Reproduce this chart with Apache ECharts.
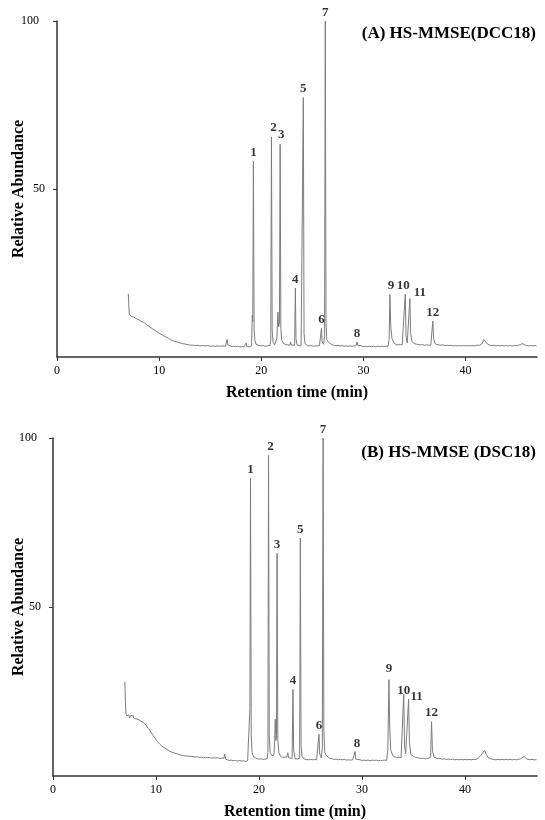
<!DOCTYPE html>
<html>
<head>
<meta charset="utf-8">
<script src="https://cdn.jsdelivr.net/npm/echarts@6/dist/echarts.min.js"></script>
<style>
html,body{margin:0;padding:0;background:#fff;}
#chart{width:545px;height:820px;}
</style>
</head>
<body>
<div id="chart"></div>
<script>
// ---------- DATA ----------
const titleA = '(A) HS-MMSE(DCC18)';
const titleB = '(B) HS-MMSE (DSC18)';
const xAxisTitle = 'Retention time (min)';
const yAxisTitle = 'Relative Abundance';
const xTickValues = [0, 10, 20, 30, 40];
const yTickValues = [50, 100];

// chromatogram A : [retention time (min), relative abundance]
const traceA = [
  [6.98,18.8],[7.03,15.5],[7.08,12.8],[7.2,12.4],[7.3,12.0],[7.4,11.8],[7.5,11.9],[7.6,11.4],[7.7,11.5],[7.8,11.1],
  [7.9,11.2],[8.0,10.8],[8.1,10.9],[8.2,10.6],[8.3,10.5],[8.4,10.2],[8.5,10.3],[8.6,9.9],[8.7,9.8],[8.8,9.5],
  [8.9,9.4],[9.0,9.0],[9.1,8.9],[9.2,8.6],[9.3,8.5],[9.4,8.2],[9.5,8.1],[9.6,7.8],[9.7,7.7],[9.8,7.4],
  [9.9,7.3],[10.0,7.0],[10.1,6.9],[10.2,6.7],[10.3,6.6],[10.4,6.3],[10.5,6.2],[10.6,6.0],[10.7,5.9],[10.8,5.7],
  [10.9,5.6],[11.0,5.3],[11.1,5.2],[11.2,5.0],[11.3,4.9],[11.4,4.7],[11.5,4.7],[11.6,4.5],[11.8,4.4],[12.0,4.2],
  [12.15,4.2],[12.3,4.0],[12.45,3.9],[12.6,3.8],[12.75,3.8],[12.9,3.6],[13.05,3.6],[13.2,3.5],[13.4,3.5],[13.6,3.4],
  [13.8,3.5],[14.0,3.3],[14.25,3.4],[14.5,3.3],[14.75,3.4],[15.0,3.2],[15.25,3.3],[15.5,3.2],[15.75,3.3],[16.0,3.2],
  [16.25,3.3],[16.5,3.2],[16.6,3.3],[16.66,5.2],[16.72,3.6],[16.9,3.2],[17.1,3.1],[17.3,3.2],[17.5,3.1],[17.7,3.2],
  [17.9,3.0],[18.1,3.1],[18.3,3.0],[18.45,3.0],[18.53,4.2],[18.6,3.1],[18.8,3.0],[18.95,3.1],[19.05,3.3],[19.12,12.4],
  [19.17,10.5],[19.23,58.2],[19.3,8.0],[19.38,4.8],[19.5,3.8],[19.65,3.5],[19.8,3.4],[20.0,3.3],[20.2,3.4],[20.4,3.2],
  [20.6,3.3],[20.85,3.4],[20.93,5.0],[21.0,65.5],[21.07,8.0],[21.15,4.5],[21.3,3.6],[21.45,3.7],[21.53,5.5],[21.63,13.4],
  [21.7,9.0],[21.78,10.0],[21.85,63.3],[21.92,8.5],[22.0,5.0],[22.2,4.0],[22.4,3.7],[22.6,3.6],[22.8,3.5],[22.87,4.5],
  [22.95,3.5],[23.1,3.3],[23.27,3.6],[23.34,20.5],[23.4,5.5],[23.5,3.6],[23.7,3.4],[23.9,3.3],[24.05,3.5],[24.12,77.2],
  [24.19,7.0],[24.28,4.0],[24.5,3.4],[24.7,3.3],[24.9,3.4],[25.1,3.2],[25.3,3.3],[25.5,3.3],[25.7,3.4],[25.84,3.6],
  [25.9,8.6],[25.96,4.5],[26.1,3.8],[26.2,6.0],[26.27,100],[26.34,10.0],[26.42,5.0],[26.55,4.5],[26.7,4.2],[26.9,3.7],
  [27.1,3.5],[27.3,3.4],[27.5,3.5],[27.7,3.3],[27.9,3.4],[28.1,3.2],[28.3,3.3],[28.5,3.2],[28.7,3.3],[28.9,3.2],
  [29.1,3.3],[29.3,3.4],[29.38,4.5],[29.45,3.5],[29.6,3.2],[29.8,3.3],[30.0,3.1],[30.2,3.2],[30.4,3.1],[30.6,3.2],
  [30.8,3.1],[31.0,3.2],[31.2,3.0],[31.4,3.2],[31.6,3.1],[31.8,3.2],[32.0,3.1],[32.2,3.2],[32.4,3.2],[32.52,5.0],
  [32.6,18.6],[32.68,9.0],[32.8,5.5],[33.0,4.2],[33.2,3.7],[33.4,3.6],[33.6,3.7],[33.7,4.0],[33.8,3.6],[33.98,3.8],
  [34.1,18.6],[34.18,6.0],[34.3,4.2],[34.45,4.2],[34.55,17.4],[34.63,7.0],[34.75,4.6],[35.0,4.0],[35.2,3.8],[35.4,3.7],
  [35.6,3.6],[35.8,3.7],[36.0,3.5],[36.2,3.6],[36.4,3.5],[36.6,3.5],[36.72,3.8],[36.8,10.7],[36.88,5.5],[37.0,4.0],
  [37.2,3.7],[37.4,3.6],[37.6,3.5],[37.8,3.6],[38.0,3.4],[38.2,3.5],[38.4,3.4],[38.6,3.5],[38.8,3.3],[39.0,3.4],
  [39.2,3.3],[39.4,3.4],[39.6,3.3],[39.8,3.4],[40.0,3.3],[40.2,3.4],[40.4,3.3],[40.6,3.4],[40.8,3.3],[41.0,3.4],
  [41.2,3.5],[41.4,3.5],[41.6,3.9],[41.8,5.2],[42.0,4.4],[42.2,3.7],[42.4,3.5],[42.6,3.4],[42.8,3.5],[43.0,3.3],
  [43.2,3.4],[43.4,3.3],[43.6,3.4],[43.8,3.3],[44.0,3.4],[44.2,3.3],[44.4,3.4],[44.6,3.3],[44.8,3.4],[45.0,3.4],
  [45.2,3.5],[45.4,3.7],[45.6,4.0],[45.8,3.6],[46.0,3.4],[46.2,3.3],[46.4,3.4],[46.6,3.3],[46.8,3.4],[46.95,3.3]
];

// chromatogram B : [retention time (min), relative abundance]
const traceB = [
  [6.98,27.9],[7.03,22.0],[7.08,18.5],[7.15,17.8],[7.25,17.5],[7.35,18.1],[7.45,17.2],[7.55,17.9],[7.65,17.4],[7.75,18.0],
  [7.85,17.1],[7.95,17.6],[8.05,16.9],[8.15,17.2],[8.25,16.8],[8.35,16.9],[8.45,16.4],[8.55,16.5],[8.65,16.0],[8.75,16.1],
  [8.85,15.6],[8.95,15.4],[9.05,15.0],[9.15,14.5],[9.25,14.1],[9.35,13.6],[9.45,13.3],[9.55,12.7],[9.65,12.4],[9.75,11.9],
  [9.85,11.6],[9.95,11.0],[10.05,10.7],[10.15,10.2],[10.25,10.0],[10.35,9.5],[10.45,9.3],[10.55,8.9],[10.65,8.8],[10.75,8.5],
  [10.85,8.3],[10.95,8.1],[11.05,7.9],[11.2,7.6],[11.35,7.5],[11.5,7.1],[11.65,7.0],[11.8,6.8],[11.95,6.8],[12.1,6.5],
  [12.25,6.5],[12.4,6.2],[12.55,6.3],[12.7,6.0],[12.85,6.1],[13.0,5.9],[13.2,5.9],[13.4,5.7],[13.6,5.8],[13.8,5.6],
  [14.0,5.7],[14.2,5.5],[14.4,5.6],[14.6,5.4],[14.8,5.5],[15.0,5.4],[15.2,5.5],[15.4,5.3],[15.6,5.4],[15.8,5.3],
  [16.0,5.4],[16.2,5.2],[16.4,5.3],[16.6,5.3],[16.68,6.5],[16.75,5.0],[16.9,4.8],[17.1,4.6],[17.3,4.7],[17.5,4.5],
  [17.7,4.6],[17.9,4.4],[18.1,4.6],[18.3,4.4],[18.5,4.5],[18.7,4.3],[18.9,4.5],[19.05,4.7],[19.12,20.0],[19.18,88.1],
  [19.25,12.0],[19.33,7.0],[19.45,5.8],[19.6,5.4],[19.8,5.1],[20.0,5.0],[20.2,5.1],[20.4,4.9],[20.6,5.0],[20.8,5.1],
  [20.87,7.0],[20.93,94.9],[21.0,12.0],[21.08,7.0],[21.25,6.0],[21.45,6.2],[21.52,10.0],[21.58,16.8],[21.65,10.5],[21.7,12.0],
  [21.76,65.9],[21.83,11.0],[21.92,7.0],[22.1,5.8],[22.3,5.5],[22.5,5.6],[22.7,5.6],[22.8,6.9],[22.88,5.4],[23.05,5.0],
  [23.22,5.2],[23.3,25.6],[23.37,7.5],[23.5,5.2],[23.7,5.0],[23.95,5.2],[24.02,70.4],[24.09,9.0],[24.18,5.8],[24.4,5.0],
  [24.6,4.9],[24.8,4.8],[25.0,4.9],[25.2,4.8],[25.4,4.9],[25.6,4.8],[25.75,5.0],[25.83,12.3],[25.9,6.5],[26.05,5.4],
  [26.15,8.0],[26.23,100],[26.3,14.0],[26.38,7.2],[26.5,6.2],[26.7,5.6],[26.9,5.2],[27.1,5.1],[27.3,4.9],[27.5,5.0],
  [27.7,4.8],[27.9,4.9],[28.1,4.8],[28.3,4.9],[28.5,4.7],[28.7,4.8],[28.9,4.7],[29.1,4.8],[29.25,4.9],[29.33,7.2],
  [29.41,5.0],[29.6,4.7],[29.8,4.8],[30.0,4.6],[30.2,4.7],[30.4,4.6],[30.6,4.7],[30.8,4.5],[31.0,4.7],[31.2,4.6],
  [31.4,4.7],[31.6,4.5],[31.8,4.6],[32.0,4.6],[32.2,4.7],[32.4,4.6],[32.52,8.0],[32.62,28.5],[32.7,14.0],[32.8,7.6],
  [33.0,6.0],[33.2,5.6],[33.4,5.5],[33.6,5.6],[33.7,5.9],[33.8,5.4],[33.98,5.8],[34.06,24.2],[34.14,9.0],[34.25,6.6],
  [34.42,6.8],[34.53,22.7],[34.61,10.0],[34.75,6.4],[35.0,5.8],[35.2,5.5],[35.4,5.4],[35.6,5.3],[35.8,5.2],[36.0,5.2],
  [36.2,5.1],[36.4,5.2],[36.55,5.1],[36.67,5.6],[36.76,16.1],[36.85,7.5],[37.0,5.6],[37.2,5.3],[37.4,5.1],[37.6,5.2],
  [37.8,5.0],[38.0,5.1],[38.2,4.9],[38.4,5.0],[38.6,4.9],[38.8,5.0],[39.0,4.8],[39.2,4.9],[39.4,4.8],[39.6,4.9],
  [39.8,4.8],[40.0,4.9],[40.2,4.8],[40.4,4.9],[40.6,4.8],[40.8,4.9],[41.0,4.9],[41.2,5.0],[41.35,5.0],[41.55,6.1],
  [41.7,5.6],[41.9,7.6],[42.1,6.3],[42.25,5.4],[42.4,5.1],[42.6,5.0],[42.8,4.9],[43.0,4.8],[43.2,4.9],[43.4,4.8],
  [43.6,4.9],[43.8,4.8],[44.0,4.9],[44.2,4.8],[44.4,4.9],[44.6,4.8],[44.8,4.9],[45.0,4.8],[45.2,4.9],[45.4,5.1],
  [45.55,5.3],[45.75,5.8],[45.95,5.1],[46.1,4.9],[46.3,4.8],[46.5,4.9],[46.7,4.8],[46.95,4.8]
];

// peak numbering
const peakLabels = ['1','2','3','4','5','6','7','8','9','10','11','12'];
const peakTimesA   = [19.23, 21.0, 21.85, 23.34, 24.12, 25.9, 26.27, 29.38, 32.6, 34.1, 34.55, 36.8];
const peakHeightsA = [58.2, 65.5, 63.3, 20.5, 77.2, 8.6, 100, 4.5, 18.6, 18.6, 17.4, 10.7];
const peakTimesB   = [19.18, 20.93, 21.76, 23.3, 24.02, 25.83, 26.23, 29.33, 32.62, 34.06, 34.53, 36.76];
const peakHeightsB = [88.1, 94.9, 65.9, 25.6, 70.4, 12.3, 100, 7.2, 28.5, 24.2, 22.7, 16.1];

// ---------- STYLE ----------
const FONT = '"Liberation Serif","Times New Roman",serif';
const labelOffsetA = {1:[2,-1], 2:[1,-1], 8:[1,0], 9:[-2,0], 10:[10,3]};
const labelOffsetB = {1:[2,0], 7:[2,0], 8:[0,-3], 9:[0,5], 10:[8,6]};

function peakSeries(gridIdx, times, heights, offsets) {
  return {
    type: 'scatter', xAxisIndex: gridIdx, yAxisIndex: gridIdx,
    symbolSize: 0, silent: true, z: 5,
    data: times.map((t, i) => ({
      value: [t, heights[i]],
      label: offsets[i] ? { offset: offsets[i] } : undefined
    })),
    label: {
      show: true, position: 'top', distance: 2,
      formatter: p => peakLabels[p.dataIndex],
      fontFamily: FONT, fontWeight: 'bold', fontSize: 13, color: '#000'
    }
  };
}

function xAxisCfg(gridIdx) {
  return {
    type: 'value', gridIndex: gridIdx, min: 0, max: 47, interval: 10,
    name: xAxisTitle, nameLocation: 'middle', nameGap: 28, nameMoveOverlap: false,
    nameTextStyle: { fontFamily: FONT, fontWeight: 'bold', fontSize: 16, color: '#000' },
    axisLine: { show: true, onZero: false, lineStyle: { color: '#333', width: 1.5 } },
    axisTick: { show: true, length: 4, inside: false, customValues: xTickValues, lineStyle: { color: '#333' } },
    axisLabel: { show: true, margin: 8, customValues: xTickValues, fontFamily: FONT, fontSize: 12, color: '#000' },
    splitLine: { show: false }
  };
}

function yAxisCfg(gridIdx, margin, pad100, nameGap) {
  return {
    type: 'value', gridIndex: gridIdx, min: 0, max: 100, interval: 50,
    name: yAxisTitle, nameLocation: 'middle', nameGap: nameGap, nameRotate: 90, nameMoveOverlap: false,
    nameTextStyle: { fontFamily: FONT, fontWeight: 'bold', fontSize: 16, color: '#000' },
    axisLine: { show: true, onZero: false, lineStyle: { color: '#333', width: 1.5 } },
    axisTick: { show: true, length: 4, inside: false, customValues: yTickValues, lineStyle: { color: '#333' } },
    axisLabel: {
      show: true, margin: margin, customValues: yTickValues,
      formatter: v => v === 100 ? '{h|100}' : '{f|' + v + '}',
      rich: {
        h: { fontFamily: FONT, fontSize: 12, color: '#000', padding: [0, pad100, 0, 0] },
        f: { fontFamily: FONT, fontSize: 12, color: '#000' }
      }
    },
    splitLine: { show: false }
  };
}

const lineStyle = { color: '#7c7c7c', width: 1 };

const option = {
  animation: false,
  backgroundColor: '#fff',
  title: [
    { text: titleA, right: 9, top: 25, padding: 0,
      textStyle: { fontFamily: FONT, fontWeight: 'bold', fontSize: 17, color: '#000' } },
    { text: titleB, right: 9, top: 444, padding: 0,
      textStyle: { fontFamily: FONT, fontWeight: 'bold', fontSize: 17, color: '#000' } }
  ],
  grid: [
    { left: 57, top: 21, width: 480, height: 336, containLabel: false, outerBoundsMode: 'none' },
    { left: 53, top: 438, width: 484, height: 338, containLabel: false, outerBoundsMode: 'none' }
  ],
  xAxis: [xAxisCfg(0), xAxisCfg(1)],
  yAxis: [yAxisCfg(0, 12, 6, 30), yAxisCfg(1, 12, 4, 26)],
  series: [
    { type: 'line', xAxisIndex: 0, yAxisIndex: 0, data: traceA, showSymbol: false, symbol: 'none',
      lineStyle: lineStyle, sampling: null, silent: true },
    { type: 'line', xAxisIndex: 1, yAxisIndex: 1, data: traceB, showSymbol: false, symbol: 'none',
      lineStyle: lineStyle, sampling: null, silent: true },
    peakSeries(0, peakTimesA, peakHeightsA, labelOffsetA),
    peakSeries(1, peakTimesB, peakHeightsB, labelOffsetB)
  ]
};

const chart = echarts.init(document.getElementById('chart'), null, { renderer: 'canvas' });
chart.setOption(option);
</script>
</body>
</html>
